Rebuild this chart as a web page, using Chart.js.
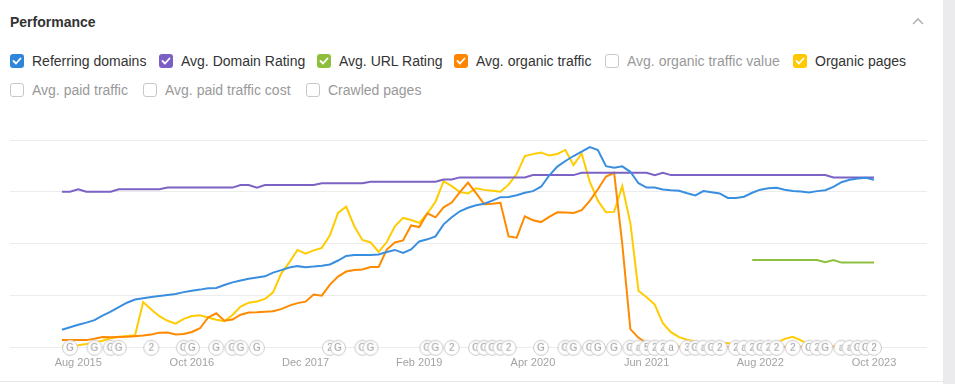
<!DOCTYPE html>
<html>
<head>
<meta charset="utf-8">
<title>Performance</title>
<script src="https://cdn.jsdelivr.net/npm/chart.js@4.4.0/dist/chart.umd.min.js"></script>
<style>
  html, body { margin: 0; padding: 0; background: #fff; }
  body { width: 955px; height: 384px; position: relative; overflow: hidden;
         font-family: "Liberation Sans", Arial, Helvetica, sans-serif; }
  .title { position: absolute; left: 10px; top: 14px; font-size: 14px; line-height: 16px; font-weight: bold; color: #333; }
  .caret { position: absolute; left: 908px; top: 14px; }
  .side  { position: absolute; left: 943px; top: 0; width: 12px; height: 384px; background: #ebebed; }
  .rule  { position: absolute; left: 0; top: 381px; width: 943px; height: 1px; background: #e8e8e8; }
  .item  { position: absolute; height: 16px; display: flex; align-items: center; font-size: 14px; color: #333; white-space: nowrap; }
  .item .box { width: 14px; height: 14px; border-radius: 3px; box-sizing: border-box; margin-right: 8px;
               display: flex; align-items: center; justify-content: center; }
  .item.off { color: #999; }
  .item.off .box { border: 1px solid #c8c8c8; background: #fff; }
  #wrap { position: absolute; left: 0; top: 128px; width: 940px; height: 252px; }
</style>
</head>
<body>
<div class="title">Performance</div>
<svg class="caret" width="20" height="14"><polyline points="5,10 10,5 15,10" fill="none" stroke="#b4b4b4" stroke-width="1.6"/></svg>
<div id="legend"></div>
<div id="wrap"><canvas id="perfChart" width="940" height="252"></canvas></div>
<div class="rule"></div>
<div class="side"></div>

<script>
/* ---------- data (monthly, Jun 2015 .. Oct 2023, index 0..100) ---------- */
const tickIdx    = [2, 16, 30, 44, 58, 72, 86, 100];
const tickLabels = ['Aug 2015', 'Oct 2016', 'Dec 2017', 'Feb 2019', 'Apr 2020', 'Jun 2021', 'Aug 2022', 'Oct 2023'];

const referringDomains = [
  8.7, 9.9, 11.1, 12.1, 13.3, 15.5, 17.4, 19.6, 21.7, 23.2,
  23.8, 24.4, 24.9, 25.4, 25.9, 26.8, 27.5, 28.0, 28.6, 28.8,
  30.2, 31.5, 32.4, 33.2, 33.8, 34.4, 36.2, 37.4, 38.6, 39.3,
  38.8, 39.1, 39.5, 40.1, 42.0, 44.2, 44.7, 44.7, 44.7, 44.9,
  46.1, 47.1, 45.7, 47.3, 51.2, 52.2, 53.6, 59.4, 62.8, 65.7,
  67.4, 68.6, 69.3, 70.8, 72.5, 72.6, 73.4, 74.6, 75.4, 77.5,
  82.9, 87.2, 89.9, 92.3, 94.4, 96.6, 95.2, 87.4, 86.6, 87.3,
  84.7, 79.2, 77.1, 77.1, 76.2, 75.8, 75.6, 74.4, 73.3, 75.4,
  74.9, 74.3, 72.1, 72.1, 72.7, 74.6, 76.1, 76.8, 77.0, 76.1,
  75.5, 75.2, 74.7, 75.4, 75.8, 77.4, 79.7, 80.9, 81.5, 81.8, 80.9
];

const domainRating = [
  75.1, 75.1, 76.3, 75.1, 75.1, 75.1, 75.1, 76.3, 76.3, 76.3,
  76.3, 76.3, 76.3, 77.1, 77.1, 77.1, 77.1, 77.1, 77.1, 77.1,
  77.1, 77.1, 78.3, 78.3, 77.1, 78.3, 78.3, 78.3, 78.3, 78.3,
  78.3, 78.3, 79.2, 79.2, 79.2, 79.2, 79.2, 79.2, 79.9, 79.9,
  79.9, 79.9, 79.9, 79.9, 79.9, 79.9, 79.9, 81.0, 81.0, 82.0,
  82.0, 82.0, 82.0, 82.0, 82.0, 82.0, 82.0, 82.0, 83.1, 83.1,
  83.1, 83.1, 83.1, 83.1, 84.2, 84.2, 84.2, 84.2, 84.2, 84.2,
  84.2, 84.2, 84.2, 83.1, 84.2, 83.1, 83.1, 83.1, 83.1, 83.1,
  83.1, 83.1, 83.1, 83.1, 83.1, 83.1, 83.1, 83.1, 83.1, 83.1,
  83.1, 83.1, 83.1, 83.1, 83.1, 82.0, 82.0, 82.0, 82.0, 82.0, 82.0
];

// URL rating only exists from index 85 on
const urlRatingStart = 85;
const urlRating = [42.2, 42.2, 42.2, 42.2, 42.2, 42.2, 42.2, 42.2, 42.2, 41.2, 42.2, 41.0, 41.0, 41.0, 41.0, 41.0];

const organicTraffic = [
  3.7, 3.7, 3.7, 3.7, 4.4, 5.2, 5.1, 5.2, 5.3, 5.6,
  5.9, 6.4, 7.3, 7.4, 6.4, 6.6, 7.6, 9.4, 14.6, 16.6,
  13.0, 13.6, 15.9, 17.0, 17.1, 17.4, 17.6, 18.6, 20.3, 21.5,
  22.2, 25.6, 25.1, 30.4, 34.3, 36.7, 37.4, 37.7, 38.9, 38.9,
  47.3, 50.7, 51.7, 58.9, 58.1, 64.7, 62.8, 67.6, 69.9, 74.9,
  79.5, 74.4, 69.1, 69.3, 69.8, 53.6, 53.0, 63.3, 61.4, 60.5,
  63.0, 65.2, 65.1, 64.9, 66.2, 70.7, 76.3, 82.4, 84.2, 50.0,
  9.0, 4.8, 2.4, 0.5, 0.5, 0.5, 0.5, 0.5, 0.5, 0.5,
  0.5, 0.5, 0.5, 0.5, 0.5, 0.5, 0.5, 0.5, 0.5, 0.5,
  0.5, 0.5, 0.5, 0.5, 0.5, 0.5, 0.5, 0.5, 0.5, 0.5, 0.5
];

const organicPages = [
  0.6, 1.0, 1.2, 1.8, 2.7, 3.4, 4.6, 5.3, 5.7, 6.0,
  22.0, 18.4, 15.2, 13.0, 11.6, 13.9, 15.3, 15.7, 14.6, 13.5,
  12.8, 15.8, 19.8, 21.7, 22.3, 23.5, 26.7, 35.7, 41.1, 47.1,
  45.3, 46.9, 48.1, 54.1, 64.9, 67.9, 58.5, 51.9, 50.7, 46.1,
  50.9, 58.5, 62.5, 61.5, 60.1, 64.7, 70.3, 80.2, 77.8, 74.9,
  74.3, 76.8, 76.0, 75.6, 75.1, 78.5, 83.6, 92.3, 93.2, 94.0,
  92.5, 93.3, 95.2, 87.9, 93.5, 79.9, 70.8, 65.2, 65.4, 77.8,
  60.0, 27.5, 24.3, 20.8, 11.8, 7.5, 5.1, 3.9, 3.0, 2.7,
  2.3, 2.0, 2.3, 1.4, 1.2, 1.0, 1.0, 1.0, 2.4, 4.3,
  5.3, 3.6, 1.7, 1.0, 0.8, 0.8, 0.8, 0.8, 0.8, 0.8, 0.8
];

// annotation markers along the baseline
const eventIdx = [
  1, 4, 6, 7, 11, 15, 16, 19, 21, 22, 24, 33, 34, 37, 38, 45, 46, 48,
  51, 52, 53, 54, 55, 59, 62, 63, 65, 66, 68, 70, 71, 72, 73, 74, 75,
  77, 78, 79, 80, 81, 83, 84, 85, 86, 87, 88, 90, 92, 93, 94, 96, 97, 98, 99, 100
];
const eventLabel = [
  'G','G','G','G','2','G','G','G','G','G','G','2','G','G','G','G','G','2',
  'G','G','G','G','2','G','G','G','G','G','G','G','a','5','2','2','a',
  '3','G','a','G','2','2','a','2','G','2','2','2','G','2','G','a','a','G','G','2'
];

/* ---------- legend (html) ---------- */
const legendItems = [
  { name: 'Referring domains',          color: '#2f84dc', on: true,  top: 53, left: 10 },
  { name: 'Avg. Domain Rating',         color: '#7b5fc4', on: true,  top: 53, left: 159 },
  { name: 'Avg. URL Rating',            color: '#8dbf3c', on: true,  top: 53, left: 317 },
  { name: 'Avg. organic traffic',       color: '#ff8400', on: true,  top: 53, left: 454 },
  { name: 'Avg. organic traffic value', color: '',        on: false, top: 53, left: 605 },
  { name: 'Organic pages',              color: '#ffc800', on: true,  top: 53, left: 793 },
  { name: 'Avg. paid traffic',          color: '',        on: false, top: 82, left: 10 },
  { name: 'Avg. paid traffic cost',     color: '',        on: false, top: 82, left: 143 },
  { name: 'Crawled pages',              color: '',        on: false, top: 82, left: 306 }
];

const tick = '<svg width="10" height="8" viewBox="0 0 10 8"><polyline points="1.5,4 4,6.5 8.5,1.5" fill="none" stroke="#fff" stroke-width="1.8" stroke-linecap="round" stroke-linejoin="round"/></svg>';
document.getElementById('legend').innerHTML = legendItems.map(it => `
  <div class="item ${it.on ? '' : 'off'}" style="left:${it.left}px;top:${it.top}px">
    <span class="box" style="${it.on ? 'background:' + it.color : ''}">${it.on ? tick : ''}</span>${it.name}
  </div>`).join('');

/* ---------- marker icons ---------- */
function markerIcon(txt) {
  const c = document.createElement('canvas');
  c.width = 18; c.height = 18;
  const g = c.getContext('2d');
  g.beginPath();
  g.arc(9, 9, 7.5, 0, Math.PI * 2);
  g.fillStyle = '#fff';
  g.fill();
  g.strokeStyle = '#c9c9c9';
  g.lineWidth = 1;
  g.stroke();
  g.fillStyle = '#9c9c9c';
  g.font = '10px "Liberation Sans", Arial, sans-serif';
  g.textAlign = 'center';
  g.textBaseline = 'middle';
  g.fillText(txt, 9, 9.5);
  return c;
}
const eventIcons = eventLabel.map(markerIcon);

/* ---------- chart ---------- */
const xy = (arr, start = 0) => arr.map((v, i) => ({ x: start + i, y: v }));

Chart.defaults.font.family = '"Liberation Sans", Arial, Helvetica, sans-serif';

new Chart(document.getElementById('perfChart'), {
  type: 'line',
  data: {
    datasets: [
      { label: 'events', data: eventIdx.map(i => ({ x: i, y: 0 })), showLine: false,
        pointStyle: eventIcons, pointRadius: 8, clip: false, order: -1 },
      { label: 'Referring domains',    data: xy(referringDomains), borderColor: '#3a8ee0' },
      { label: 'Avg. Domain Rating',   data: xy(domainRating),     borderColor: '#7b62c4' },
      { label: 'Avg. URL Rating',      data: xy(urlRating, urlRatingStart), borderColor: '#8dbf3c' },
      { label: 'Avg. organic traffic', data: xy(organicTraffic),   borderColor: '#ff8a00' },
      { label: 'Organic pages',        data: xy(organicPages),     borderColor: '#ffcc00' }
    ]
  },
  options: {
    responsive: false,
    animation: false,
    layout: { padding: { left: 10, right: 13, top: 12, bottom: 1 } },
    plugins: { legend: { display: false }, tooltip: { enabled: false } },
    elements: {
      line: { borderWidth: 2, tension: 0, fill: false },
      point: { radius: 0 }
    },
    scales: {
      x: {
        type: 'linear', min: -6.4, max: 106.53,
        grid: { display: false, drawTicks: false },
        border: { display: false },
        afterBuildTicks: (s) => { s.ticks = tickIdx.map(v => ({ value: v })); },
        ticks: {
          autoSkip: false, maxRotation: 0, padding: 9, color: '#a3a3a3',
          font: { size: 11 },
          callback: (v) => { const k = tickIdx.indexOf(v); return k >= 0 ? tickLabels[k] : ''; }
        }
      },
      y: {
        min: 0, max: 100,
        ticks: { display: false, stepSize: 25 },
        grid: { color: '#ececec', drawTicks: false },
        border: { display: false }
      }
    }
  }
});
</script>
</body>
</html>
